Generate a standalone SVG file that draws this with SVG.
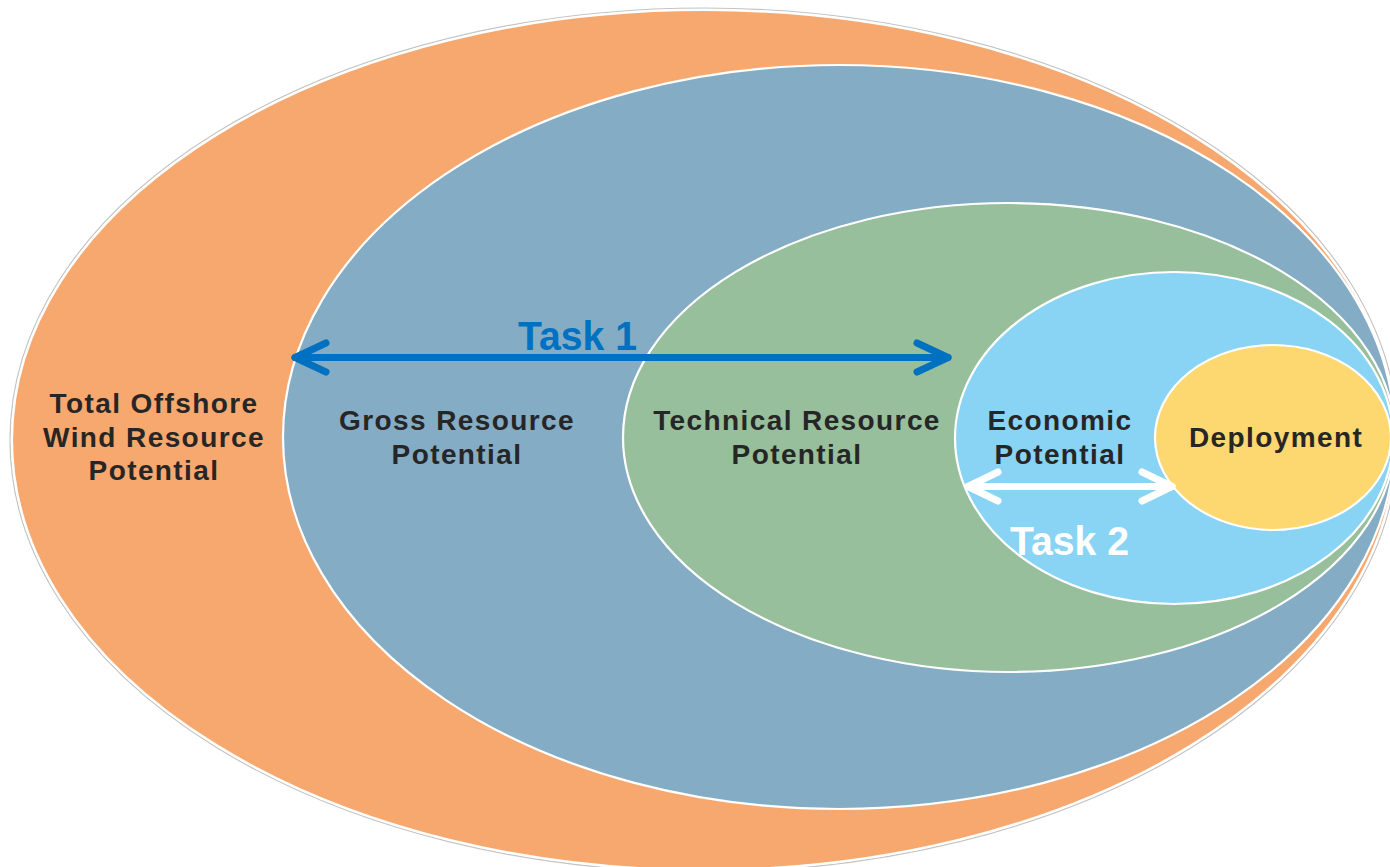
<svg xmlns="http://www.w3.org/2000/svg" width="1390" height="867" viewBox="0 0 1390 867">
  <defs>
    <style>
      .ring { stroke: #ffffff; stroke-width: 2.2; }
      .label { font-family: "Liberation Sans", Arial, sans-serif; font-weight: bold; font-size: 28px; fill: #262626; text-anchor: middle; letter-spacing: 1.4px; }
      .task { font-family: "Liberation Sans", Arial, sans-serif; font-weight: bold; font-size: 41px; }
      .shaft { fill: none; stroke-width: 7; stroke-linecap: round; stroke-linejoin: round; }
    </style>
  </defs>

  <rect width="1390" height="867" fill="#ffffff"/>

  <!-- outer ring with its faint edge shadow -->
  <g id="total-offshore">
    <ellipse cx="704" cy="440" rx="694" ry="432" fill="none" stroke="#c4c4c4" stroke-width="1.2"/>
    <ellipse class="ring" cx="704" cy="440" rx="692" ry="430" fill="#F7A86F"/>
    <text class="label" x="154" y="413">Total Offshore</text>
    <text class="label" x="154" y="447">Wind Resource</text>
    <text class="label" x="154" y="480">Potential</text>
  </g>

  <g id="gross-resource">
    <ellipse class="ring" cx="839" cy="437" rx="556" ry="372" fill="#84ACC5"/>
    <text class="label" x="457" y="430">Gross Resource</text>
    <text class="label" x="457" y="464">Potential</text>
  </g>

  <g id="technical-resource">
    <ellipse class="ring" cx="1009" cy="437.5" rx="386" ry="234.5" fill="#97BF9B"/>
    <text class="label" x="797" y="430">Technical Resource</text>
    <text class="label" x="797" y="464">Potential</text>
  </g>

  <g id="economic">
    <ellipse class="ring" cx="1174" cy="438" rx="219" ry="166" fill="#89D4F4"/>
    <text class="label" x="1060" y="430">Economic</text>
    <text class="label" x="1060" y="464">Potential</text>
  </g>

  <g id="deployment">
    <ellipse class="ring" cx="1273" cy="437.5" rx="118" ry="92.5" fill="#FDD870"/>
    <text class="label" x="1276" y="447">Deployment</text>
  </g>

  <!-- double-headed arrows marking the two task spans -->
  <g id="connectors">
    <g id="task1" stroke="#0070C0">
      <path class="shaft" d="M295 357.5 H948"/>
      <path class="shaft" d="M326 343 L295 357.5 L326 372"/>
      <path class="shaft" d="M917 343 L948 357.5 L917 372"/>
      <text class="task" x="518" y="350" fill="#0070C0" stroke="none" textLength="119" lengthAdjust="spacingAndGlyphs">Task 1</text>
    </g>
    <g id="task2" stroke="#ffffff">
      <path class="shaft" d="M968 486.5 H1172"/>
      <path class="shaft" d="M998 472 L968 486.5 L998 501"/>
      <path class="shaft" d="M1142 472 L1172 486.5 L1142 501"/>
      <text class="task" x="1010" y="555" fill="#ffffff" stroke="none" textLength="119" lengthAdjust="spacingAndGlyphs">Task 2</text>
    </g>
  </g>
</svg>
